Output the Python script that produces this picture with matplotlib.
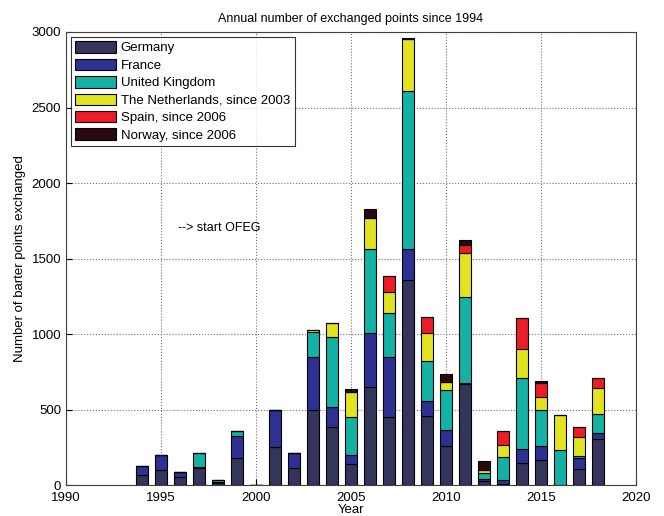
import numpy as np
import matplotlib
matplotlib.use('Agg')
import matplotlib.pyplot as plt

plt.rcParams['font.family'] = ['Liberation Sans', 'DejaVu Sans']

years = np.arange(1994, 2019)

# values, one entry per year 1994..2018
germany = [65, 100, 50, 115, 15, 180, 0, 250, 110, 500, 385, 137, 650, 450, 1360,
           457, 260, 670, 25, 5, 148, 166, 0, 108, 305]
france = [60, 100, 35, 5, 3, 145, 0, 250, 105, 350, 135, 62, 355, 395, 200,
          100, 105, 3, 12, 28, 90, 92, 0, 73, 41]
uk = [0, 0, 0, 90, 17, 35, 0, 0, 0, 165, 460, 250, 560, 295, 1050,
      265, 265, 575, 45, 150, 468, 239, 232, 13, 122]
netherlands = [0, 0, 0, 0, 0, 0, 0, 0, 0, 12, 95, 170, 200, 135, 345,
               188, 50, 287, 20, 85, 195, 88, 232, 126, 176]
spain = [0, 0, 0, 0, 0, 0, 0, 0, 0, 0, 0, 0, 5, 110, 0,
         100, 0, 55, 0, 90, 205, 93, 0, 66, 62]
norway = [0, 0, 0, 0, 0, 0, 0, 0, 0, 0, 0, 15, 60, 0, 6,
          0, 55, 34, 60, 0, 0, 13, 0, 0, 0]

series = [germany, france, uk, netherlands, spain, norway]
labels = ['Germany', 'France', 'United Kingdom', 'The Netherlands, since 2003',
          'Spain, since 2006', 'Norway, since 2006']
colors = ['#35345a', '#2e3192', '#14b1a5', '#e2e31f', '#ee1c24', '#2a0a0c']

fig = plt.figure(figsize=(6.64, 5.16), dpi=100)
ax = fig.add_axes([0.0994, 0.060, 0.8584, 0.878])

bottom = np.zeros(len(years))
for vals, lab, col in zip(series, labels, colors):
    vals = np.array(vals, dtype=float)
    ax.bar(years, vals, width=0.6, bottom=bottom, color=col, edgecolor='black',
           linewidth=0.8, label=lab)
    bottom += vals

ax.set_xlim(1990, 2020)
ax.set_ylim(0, 3000)
ax.set_xticks(np.arange(1990, 2021, 5))
ax.set_yticks(np.arange(0, 3001, 500))
ax.tick_params(direction='in', labelsize=9.5, length=4)
ax.tick_params(axis='x', pad=5)
ax.grid(True, linestyle=':', color='#707070', linewidth=0.8)
ax.set_axisbelow(True)
for sp in ax.spines.values():
    sp.set_color('#404040')
    sp.set_linewidth(0.8)

ax.set_title('Annual number of exchanged points since 1994', fontsize=9, pad=7)
ax.set_xlabel('Year', fontsize=9.5, labelpad=0)
ax.set_ylabel('Number of barter points exchanged', fontsize=9.5, labelpad=4)

ax.text(1995.9, 1700, '--> start OFEG', fontsize=9, va='center', ha='left')

leg = ax.legend(loc='upper left', fontsize=9.5, frameon=True, fancybox=False,
                edgecolor='black', borderpad=0.35, labelspacing=0.32,
                handlelength=3.1, handleheight=0.95, handletextpad=0.35,
                borderaxespad=0.35)
leg.get_frame().set_linewidth(0.8)

fig.savefig('out.png', dpi=100)
